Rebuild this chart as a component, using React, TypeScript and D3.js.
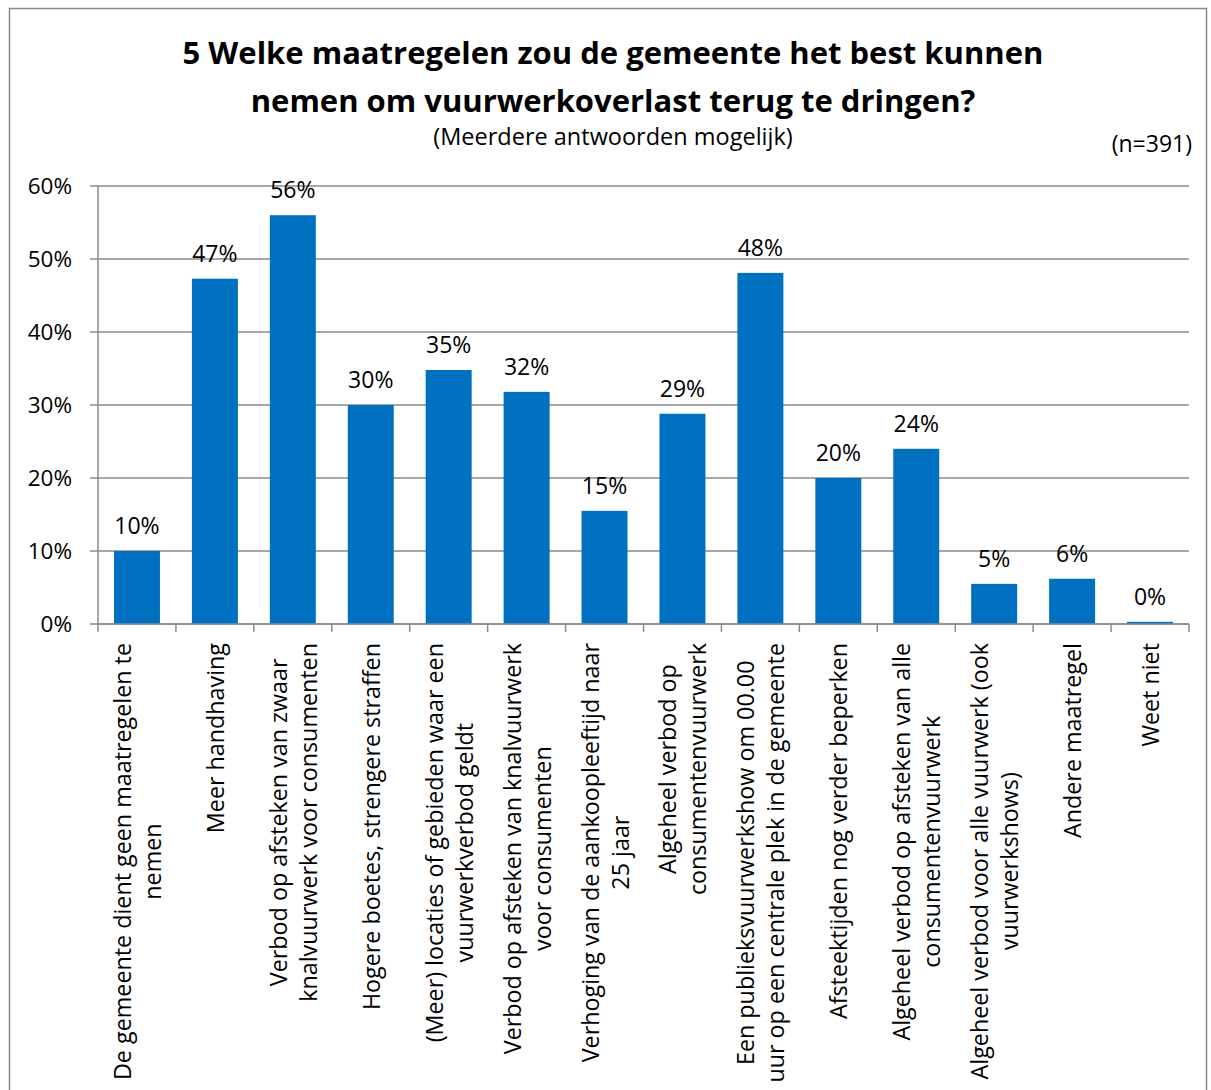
import React, { useEffect, useRef } from 'react';
import * as d3 from 'd3';

const categories: string[][] = [
  ['De gemeente dient geen maatregelen te', 'nemen'],
  ['Meer handhaving'],
  ['Verbod op afsteken van zwaar', 'knalvuurwerk voor consumenten'],
  ['Hogere boetes, strengere straffen'],
  ['(Meer) locaties of gebieden waar een', 'vuurwerkverbod geldt'],
  ['Verbod op afsteken van knalvuurwerk', 'voor consumenten'],
  ['Verhoging van de aankoopleeftijd naar', '25 jaar'],
  ['Algeheel verbod op', 'consumentenvuurwerk'],
  ['Een publieksvuurwerkshow om 00.00', 'uur op een centrale plek in de gemeente'],
  ['Afsteektijden nog verder beperken'],
  ['Algeheel verbod op afsteken van alle', 'consumentenvuurwerk'],
  ['Algeheel verbod voor alle vuurwerk (ook', 'vuurwerkshows)'],
  ['Andere maatregel'],
  ['Weet niet'],
];

const values = [10.0, 47.3, 56.0, 30.0, 34.8, 31.8, 15.5, 28.8, 48.1, 20.0, 24.0, 5.5, 6.2, 0.3];
const valueLabels = ['10%', '47%', '56%', '30%', '35%', '32%', '15%', '29%', '48%', '20%', '24%', '5%', '6%', '0%'];
const yTicks = [0, 10, 20, 30, 40, 50, 60];

const titleLines = [
  '5 Welke maatregelen zou de gemeente het best kunnen',
  'nemen om vuurwerkoverlast terug te dringen?',
];
const subtitle = '(Meerdere antwoorden mogelijk)';
const sampleNote = '(n=391)';

const W = 1211;
const H = 1090;
const FONT = '"Open Sans", "Noto Sans", sans-serif';

export default function App() {
  const svgRef = useRef<SVGSVGElement | null>(null);

  useEffect(() => {
    const svg = d3.select(svgRef.current);
    svg.selectAll('*').remove();

    const plot = { left: 98, right: 1189, top: 186, bottom: 624 };

    const x = d3.scaleBand<number>()
      .domain(d3.range(categories.length))
      .range([plot.left, plot.right])
      .paddingInner(0.41)
      .paddingOuter(0.205);
    const step = (plot.right - plot.left) / categories.length;

    const y = d3.scaleLinear().domain([0, 60]).range([plot.bottom, plot.top]);

    // chart border
    svg.append('rect')
      .attr('x', 9.5).attr('y', 8.5)
      .attr('width', 1197).attr('height', 1100)
      .attr('fill', 'white')
      .attr('stroke', '#898989')
      .attr('stroke-width', 1.5);

    // title
    svg.append('g').selectAll('text')
      .data(titleLines)
      .join('text')
      .attr('x', 613)
      .attr('y', (_, i) => 64 + i * 48)
      .attr('text-anchor', 'middle')
      .attr('font-family', FONT)
      .attr('font-weight', 'bold')
      .attr('font-size', 31)
      .attr('fill', '#000')
      .text((d) => d);

    svg.append('text')
      .attr('x', 613).attr('y', 145)
      .attr('text-anchor', 'middle')
      .attr('font-family', FONT)
      .attr('font-size', 23.5)
      .text(subtitle);

    svg.append('text')
      .attr('x', 1192).attr('y', 152)
      .attr('text-anchor', 'end')
      .attr('font-family', FONT)
      .attr('font-size', 23)
      .text(sampleNote);

    // gridlines
    svg.append('g').selectAll('line')
      .data(yTicks)
      .join('line')
      .attr('x1', plot.left - 8).attr('x2', plot.right)
      .attr('y1', (d) => y(d)).attr('y2', (d) => y(d))
      .attr('stroke', '#8a8a8a')
      .attr('stroke-width', 1.5);

    // y axis line
    svg.append('line')
      .attr('x1', plot.left).attr('x2', plot.left)
      .attr('y1', plot.top).attr('y2', plot.bottom)
      .attr('stroke', '#8a8a8a')
      .attr('stroke-width', 1.5);

    // y tick labels
    svg.append('g').selectAll('text')
      .data(yTicks)
      .join('text')
      .attr('x', 72)
      .attr('y', (d) => y(d))
      .attr('dy', '0.35em')
      .attr('text-anchor', 'end')
      .attr('font-family', FONT)
      .attr('font-size', 22.5)
      .text((d) => `${d}%`);

    // x ticks at category boundaries
    svg.append('g').selectAll('line')
      .data(d3.range(categories.length + 1))
      .join('line')
      .attr('x1', (i) => plot.left + i * step).attr('x2', (i) => plot.left + i * step)
      .attr('y1', plot.bottom).attr('y2', plot.bottom + 8)
      .attr('stroke', '#8a8a8a')
      .attr('stroke-width', 1.5);

    // bars
    svg.append('g').selectAll('rect')
      .data(values)
      .join('rect')
      .attr('x', (_, i) => x(i)!)
      .attr('width', x.bandwidth())
      .attr('y', (d) => y(d))
      .attr('height', (d) => y(0) - y(d))
      .attr('fill', '#0070c0');

    // bottom axis over bars
    svg.append('line')
      .attr('x1', plot.left).attr('x2', plot.right)
      .attr('y1', plot.bottom).attr('y2', plot.bottom)
      .attr('stroke', '#8a8a8a')
      .attr('stroke-width', 1.5);

    // value labels
    svg.append('g').selectAll('text')
      .data(values)
      .join('text')
      .attr('x', (_, i) => x(i)! + x.bandwidth() / 2)
      .attr('y', (d) => y(d) - 17)
      .attr('text-anchor', 'middle')
      .attr('font-family', FONT)
      .attr('font-size', 23)
      .text((_, i) => valueLabels[i]);

    // rotated category labels
    const labelTop = 643;
    const lineGap = 30;
    categories.forEach((lines, i) => {
      const cx = x(i)! + x.bandwidth() / 2;
      const g = svg.append('g').attr('transform', `translate(${cx},${labelTop}) rotate(-90)`);
      const texts = g.selectAll('text')
        .data(lines)
        .join('text')
        .attr('font-family', FONT)
        .attr('font-size', 23.3)
        .attr('text-anchor', 'middle')
        .attr('dominant-baseline', 'central')
        .attr('y', (_, j) => (j - (lines.length - 1) / 2) * lineGap)
        .text((d) => d);
      let maxLen = 0;
      texts.each(function () {
        maxLen = Math.max(maxLen, (this as SVGTextElement).getComputedTextLength());
      });
      texts.attr('x', -maxLen / 2);
    });
  }, []);

  return (
    <svg
      ref={svgRef}
      width={W}
      height={H}
      style={{ position: 'absolute', left: 0, top: 0, background: 'white' }}
    />
  );
}
